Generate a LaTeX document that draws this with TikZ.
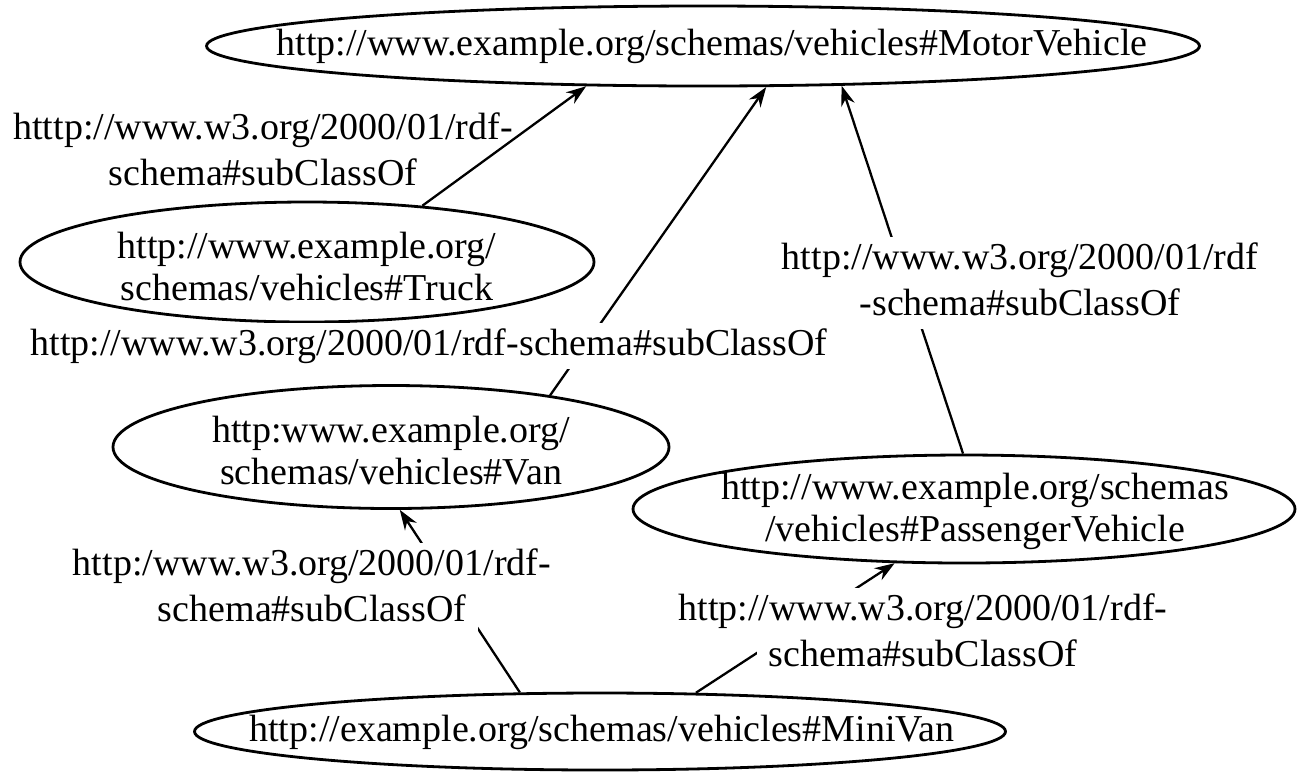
\documentclass[tikz,border=0pt]{standalone}
\usepackage{fontspec}
\setmainfont{Liberation Serif}
\usetikzlibrary{shapes.geometric,arrows.meta,positioning}

\tikzset{
  cls/.style={ellipse, draw, line width=1.4pt, inner sep=0pt},
  clstext/.style={font=\fontsize{19}{21}\selectfont, align=center, inner sep=0pt},
  rel/.style={font=\fontsize{19}{21}\selectfont, fill=white, inner xsep=6pt, inner ysep=0.5pt,
    outer sep=0pt, text height=15.5pt, text depth=6.5pt},
  sub/.style={-{Stealth[length=10pt,width=7pt]}, line width=1.15pt}
}

\begin{document}
\begin{tikzpicture}[x=0.5pt, y=-0.5pt]
    \useasboundingbox (0,0) rectangle (1299,783);
    % classes
    \node[cls, minimum width=496.5pt, minimum height=40pt] (motor) at (703,46) {};
    \node[cls, minimum width=287pt, minimum height=60pt] (truck) at (307,262) {};
    \node[cls, minimum width=278pt, minimum height=61.5pt] (van) at (391,447) {};
    \node[cls, minimum width=331pt, minimum height=54pt] (passenger) at (964,509) {};
    \node[cls, minimum width=405.5pt, minimum height=38.5pt] (minivan) at (600,731.5) {};
    \node[clstext] (motorlbl) at (712,46) {http://www.example.org/schemas/vehicles\#MotorVehicle};
    \node[clstext] (trucklbl) at (307,266) {http://www.example.org/\\schemas/vehicles\#Truck};
    \node[clstext] (vanlbl) at (391,451) {http:www.example.org/\\schemas/vehicles\#Van};
    \node[clstext] (passengerlbl) at (975,511) {http://www.example.org/schemas\\/vehicles\#PassengerVehicle};
    \node[clstext] (minivanlbl) at (602,732) {http://example.org/schemas/vehicles\#MiniVan};
    % subClassOf edges
    \draw[sub] (truck.26) -- (motor.199);
    \draw[sub] (van.18) -- (motor.327.4);
    \draw[sub] (passenger.91) -- (motor.344);
    \draw[sub] (minivan.154) -- (van.278.3);
    \draw[sub] (minivan.22) -- (passenger.218.7);
    % edge labels
    \node[rel, fill=none] (l1a) at (263,130) {htttp://www.w3.org/2000/01/rdf-};
    \node[rel, fill=none, below=0pt of l1a] (l1b) {schema\#subClassOf};
    \node[rel] (l2) at (429,346) {http://www.w3.org/2000/01/rdf-schema\#subClassOf};
    \node[rel] (l3a) at (1020,260) {http://www.w3.org/2000/01/rdf};
    \node[rel, below=0pt of l3a] (l3b) {-schema\#subClassOf};
    \node[rel] (l4a) at (312,566) {http:/www.w3.org/2000/01/rdf-};
    \node[rel, below=0pt of l4a] (l4b) {schema\#subClassOf};
    \node[rel] (l5a) at (923,611) {http://www.w3.org/2000/01/rdf-};
    \node[rel, below=0pt of l5a] (l5b) {schema\#subClassOf};
\end{tikzpicture}
\end{document}
